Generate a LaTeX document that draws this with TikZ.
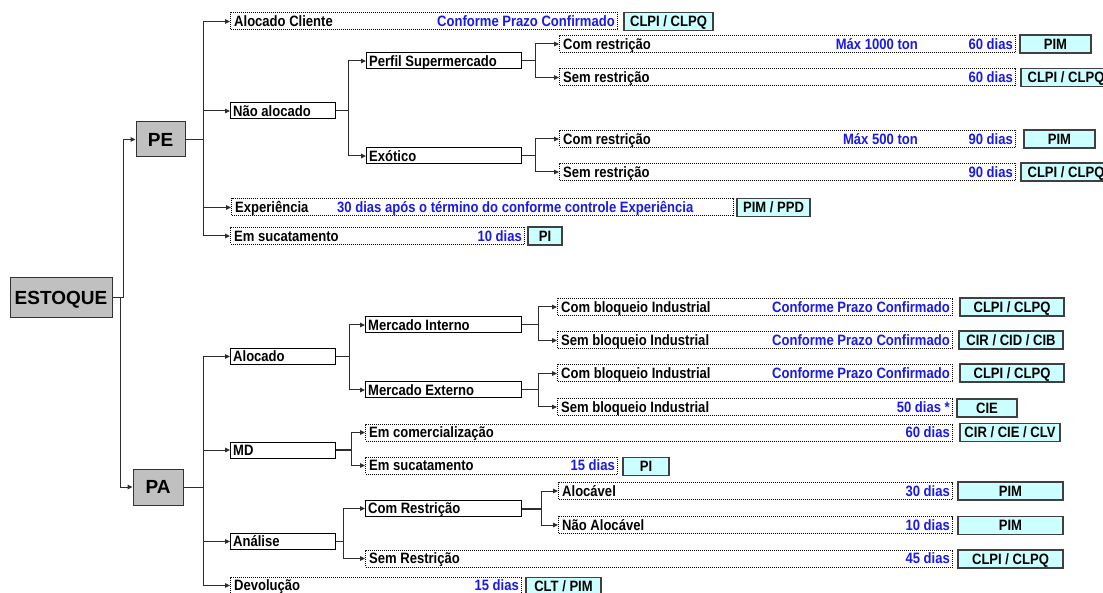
\documentclass[tikz,border=0pt]{standalone}
\usepackage{fontspec}
\setmainfont{Liberation Sans}
\newfontfamily\narrowfont[FakeStretch=0.87]{Liberation Sans}
\usetikzlibrary{arrows.meta}

\definecolor{rootgray}{RGB}{192,192,192}
\definecolor{codecyan}{RGB}{204,255,255}
\definecolor{termblue}{RGB}{25,25,235}
\definecolor{linegray}{RGB}{45,45,45}

\tikzset{
  lbl/.style={inner sep=0pt, font=\narrowfont\bfseries\fontsize{15}{15}\selectfont, text height=10.7pt, text depth=0pt},
  blbl/.style={lbl, text=termblue},
  dbox/.style={draw=black, line width=1pt, dash pattern=on 1pt off 1pt, minimum height=17pt, inner sep=0pt, anchor=west},
  sbox/.style={draw=black, line width=1pt, fill=white, minimum height=16pt, inner sep=0pt, anchor=west},
  rootbox/.style={draw=black!80, line width=1pt, fill=rootgray, inner sep=0pt,
    font=\bfseries\fontsize{19}{19}\selectfont, text height=13.6pt, text depth=0pt},
  codebox/.style={draw=black!75, line width=1.3pt, fill=codecyan, minimum height=18pt, inner sep=0pt,
    font=\narrowfont\bfseries\fontsize{15}{15}\selectfont, text height=10.7pt, text depth=0pt},
  conn/.style={draw=linegray, line width=1pt, -{Triangle[length=5pt,width=4.5pt]}},
  stub/.style={draw=linegray, line width=2pt},
}

% dotted term row: name, left x, centre y, width, label, blue term
\newcommand{\termrow}[6]{%
  \node[dbox, minimum width=#4pt] (#1) at (#2,#3) {};
  \node[lbl, anchor=west] (#1-t) at ([xshift=4pt]#1.west) {#5};
  \node[blbl, anchor=east] (#1-d) at ([xshift=-3pt]#1.east) {#6};
}
% solid branch box: name, left x, centre y, width, label
\newcommand{\branchbox}[5]{%
  \node[sbox, minimum width=#4pt] (#1) at (#2,#3) {};
  \node[lbl, anchor=west] (#1-t) at ([xshift=3pt]#1.west) {#5};
}
% cyan code box: name, centre x, centre y, width, code
\newcommand{\coderow}[5]{%
  \node[codebox, minimum width=#4pt] (#1) at (#2,#3) {#5};
}

\begin{document}
\begin{tikzpicture}[x=1pt, y=-1pt]
\useasboundingbox (0,0) rectangle (1103,593);
\fill[white] (0,0) rectangle (1103,593);
\clip (0,0) rectangle (1103,593);

% root and first level
\node[rootbox, minimum width=102pt, minimum height=40pt] (estoque) at (61,298) {ESTOQUE};
\node[rootbox, minimum width=49pt, minimum height=35pt] (pe) at (160.5,139.5) {PE};
\node[rootbox, minimum width=50pt, minimum height=36pt] (pa) at (158,487) {PA};

% ---------- PE ----------
\termrow{ac}{230}{21.5}{387}{Alocado Cliente}{Conforme Prazo Confirmado}
\coderow{acc}{668.5}{21.5}{89}{CLPI / CLPQ}

\branchbox{na}{230}{111}{105}{Não alocado}
\branchbox{ps}{366}{61}{155}{Perfil Supermercado}
\branchbox{ex}{366}{156}{155}{Exótico}

\termrow{ps1}{559}{44}{456}{Com restrição}{60 dias}
\node[blbl, anchor=east] (ps1-m) at (918,44) {Máx 1000 ton};
\coderow{ps1c}{1055.5}{44}{71}{PIM}
\termrow{ps2}{559}{77.5}{456}{Sem restrição}{60 dias}
\coderow{ps2c}{1066}{77.5}{90}{CLPI / CLPQ}

\termrow{ex1}{559}{139}{456}{Com restrição}{90 dias}
\node[blbl, anchor=east] (ex1-m) at (918,139) {Máx 500 ton};
\coderow{ex1c}{1059.5}{139}{71}{PIM}
\termrow{ex2}{559}{172}{456}{Sem restrição}{90 dias}
\coderow{ex2c}{1066}{172}{90}{CLPI / CLPQ}

\node[dbox, minimum width=502pt] (xp) at (231,207.5) {};
\node[lbl, anchor=west] (xp-t) at ([xshift=4pt]xp.west) {Experiência};
\node[blbl, anchor=west] (xp-d) at (337,207.5) {30 dias após o término do conforme controle Experiência};
\coderow{xpc}{773.5}{207.5}{73}{PIM / PPD}

\termrow{su}{230}{236}{294}{Em sucatamento}{10 dias}
\coderow{suc}{545}{236}{34}{PI}

% ---------- PA ----------
\branchbox{al}{230}{356.5}{105}{Alocado}
\branchbox{md}{230}{450}{105}{MD}
\branchbox{an}{230}{541.5}{105}{Análise}
\termrow{dv}{230}{585.5}{291}{Devolução}{15 dias}
\coderow{dvc}{563.5}{586.5}{75}{CLT / PIM}

\branchbox{mi}{365}{325}{156}{Mercado Interno}
\branchbox{me}{365}{390}{156}{Mercado Externo}

\termrow{mi1}{557}{307}{395}{Com bloqueio Industrial}{Conforme Prazo Confirmado}
\coderow{mi1c}{1012}{307}{104}{CLPI / CLPQ}
\termrow{mi2}{557}{340.5}{395}{Sem bloqueio Industrial}{Conforme Prazo Confirmado}
\coderow{mi2c}{1011}{340}{104}{CIR / CID / CIB}
\termrow{me1}{557}{373.5}{395}{Com bloqueio Industrial}{Conforme Prazo Confirmado}
\coderow{me1c}{1012}{373}{104}{CLPI / CLPQ}
\termrow{me2}{557}{407}{395}{Sem bloqueio Industrial}{50 dias *}
\coderow{me2c}{987}{408}{60}{CIE}

\termrow{mdc}{365}{432.5}{587}{Em comercialização}{60 dias}
\coderow{mdcc}{1010}{432.5}{100}{CIR / CIE / CLV}
\termrow{mds}{365}{465.5}{252}{Em sucatamento}{15 dias}
\coderow{mdsc}{646}{466.5}{46}{PI}

\branchbox{cr}{365}{508.5}{156}{Com Restrição}
\termrow{sr}{365}{558.5}{587}{Sem Restrição}{45 dias}
\coderow{src}{1010.5}{559}{105}{CLPI / CLPQ}
\termrow{cr1}{558}{491}{394}{Alocável}{30 dias}
\coderow{cr1c}{1010.5}{491}{105}{PIM}
\termrow{cr2}{558}{525}{394}{Não Alocável}{10 dias}
\coderow{cr2c}{1010.5}{525.5}{105}{PIM}

% ---------- connectors ----------
\draw[conn] (estoque.east) -- ++(11,0) |- (pe.west);
\draw[conn] (estoque.east) -- ++(8,0) |- (pa.west);

\foreach \c in {ac,na,xp,su} \draw[conn] (pe.east) -- ++(18,0) |- (\c.west);
\foreach \c in {ps,ex} \draw[conn] (na.east) -- ++(12,0) |- (\c.west);
\foreach \c in {ps1,ps2} \draw[conn] (ps.east) -- ++(13,0) |- (\c.west);
\foreach \c in {ex1,ex2} \draw[conn] (ex.east) -- ++(13,0) |- (\c.west);

\foreach \c in {al,md,an,dv} \draw[conn] (pa.east) -- ++(20,0) |- (\c.west);
\foreach \c in {mi,me} \draw[conn] (al.east) -- ++(13,0) |- (\c.west);
\foreach \c in {mi1,mi2} \draw[conn] (mi.east) -- ++(16,0) |- (\c.west);
\foreach \c in {me1,me2} \draw[conn] (me.east) -- ++(16,0) |- (\c.west);
\draw[stub] (md.east) -- ++(15,0);
\foreach \c in {mdc,mds} \draw[conn] (md.east) -- ++(15,0) |- (\c.west);
\foreach \c in {cr,sr} \draw[conn] (an.east) -- ++(7,0) |- (\c.west);
\draw[stub] (cr.east) -- ++(19,0);
\foreach \c in {cr1,cr2} \draw[conn] (cr.east) -- ++(19,0) |- (\c.west);
\end{tikzpicture}
\end{document}
